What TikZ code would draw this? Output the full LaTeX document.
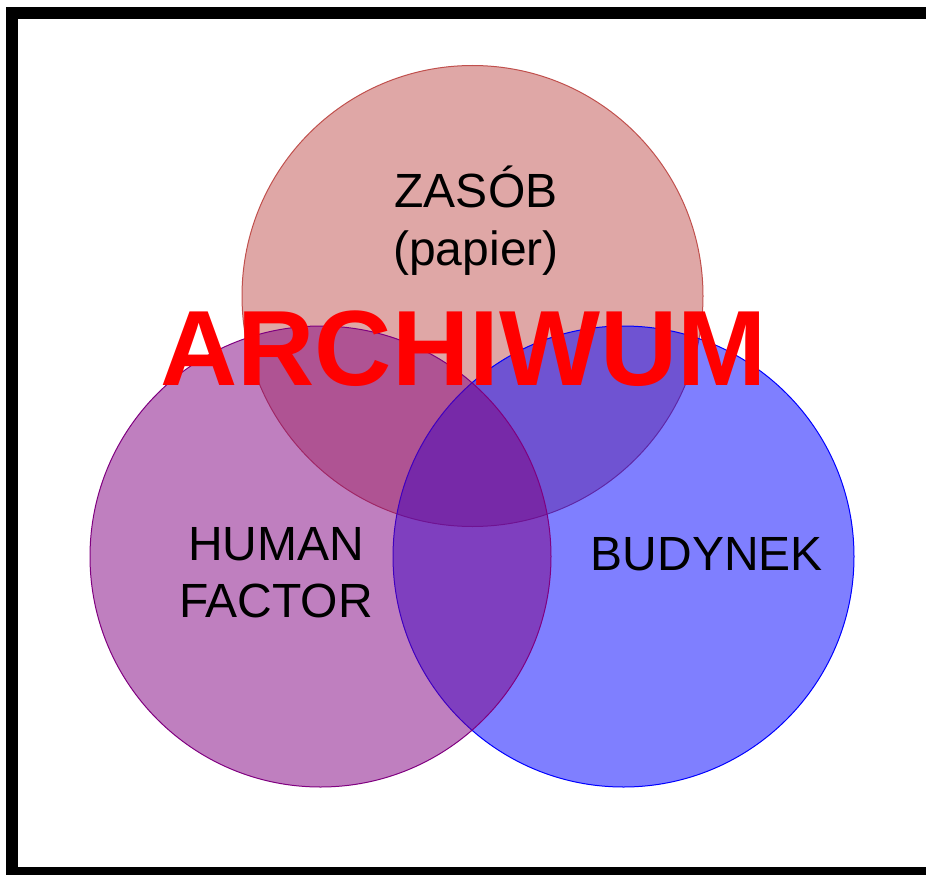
\documentclass[tikz,border=0pt]{standalone}
\usepackage{fontspec}
\setmainfont{Liberation Sans}
\usetikzlibrary{positioning}
\definecolor{zasobred}{HTML}{C0504D}
\definecolor{humanpurple}{HTML}{800080}
\definecolor{archred}{HTML}{FF0000}

\begin{document}
\begin{tikzpicture}[x=1pt,y=-1pt,
  every node/.style={inner sep=0pt,anchor=base},
  label/.style={font=\fontsize{48}{58}\selectfont},
  ring/.style={line width=1pt,fill opacity=.5}]
  \useasboundingbox (0,0) rectangle (926,875);
  \clip (0,0) rectangle (926,875);
  % frame
  \draw[line width=12pt] (11.5,13) rectangle (945,873);
  % circles
  \path[ring,draw=zasobred,fill=zasobred] (472.5,296) circle (230.5);
  \path[ring,draw=blue,fill=blue] (623.5,556.5) circle (230.5);
  \path[ring,draw=humanpurple,fill=humanpurple] (320.5,556.5) circle (230.5);
  % texts
  \path (476,207) node[label] (zasob) {ZASÓB}
  (476,265) node[label] (papier) {(papier)}
  (276,560) node[label] (human) {HUMAN}
  (276,617) node[label] (factor) {FACTOR}
  (707,570) node[label] (budynek) {BUDYNEK};
  \node[text=archred,font=\fontsize{107}{120}\selectfont\bfseries] (archiwum) at (463.5,385) {ARCHIWUM};
\end{tikzpicture}
\end{document}
